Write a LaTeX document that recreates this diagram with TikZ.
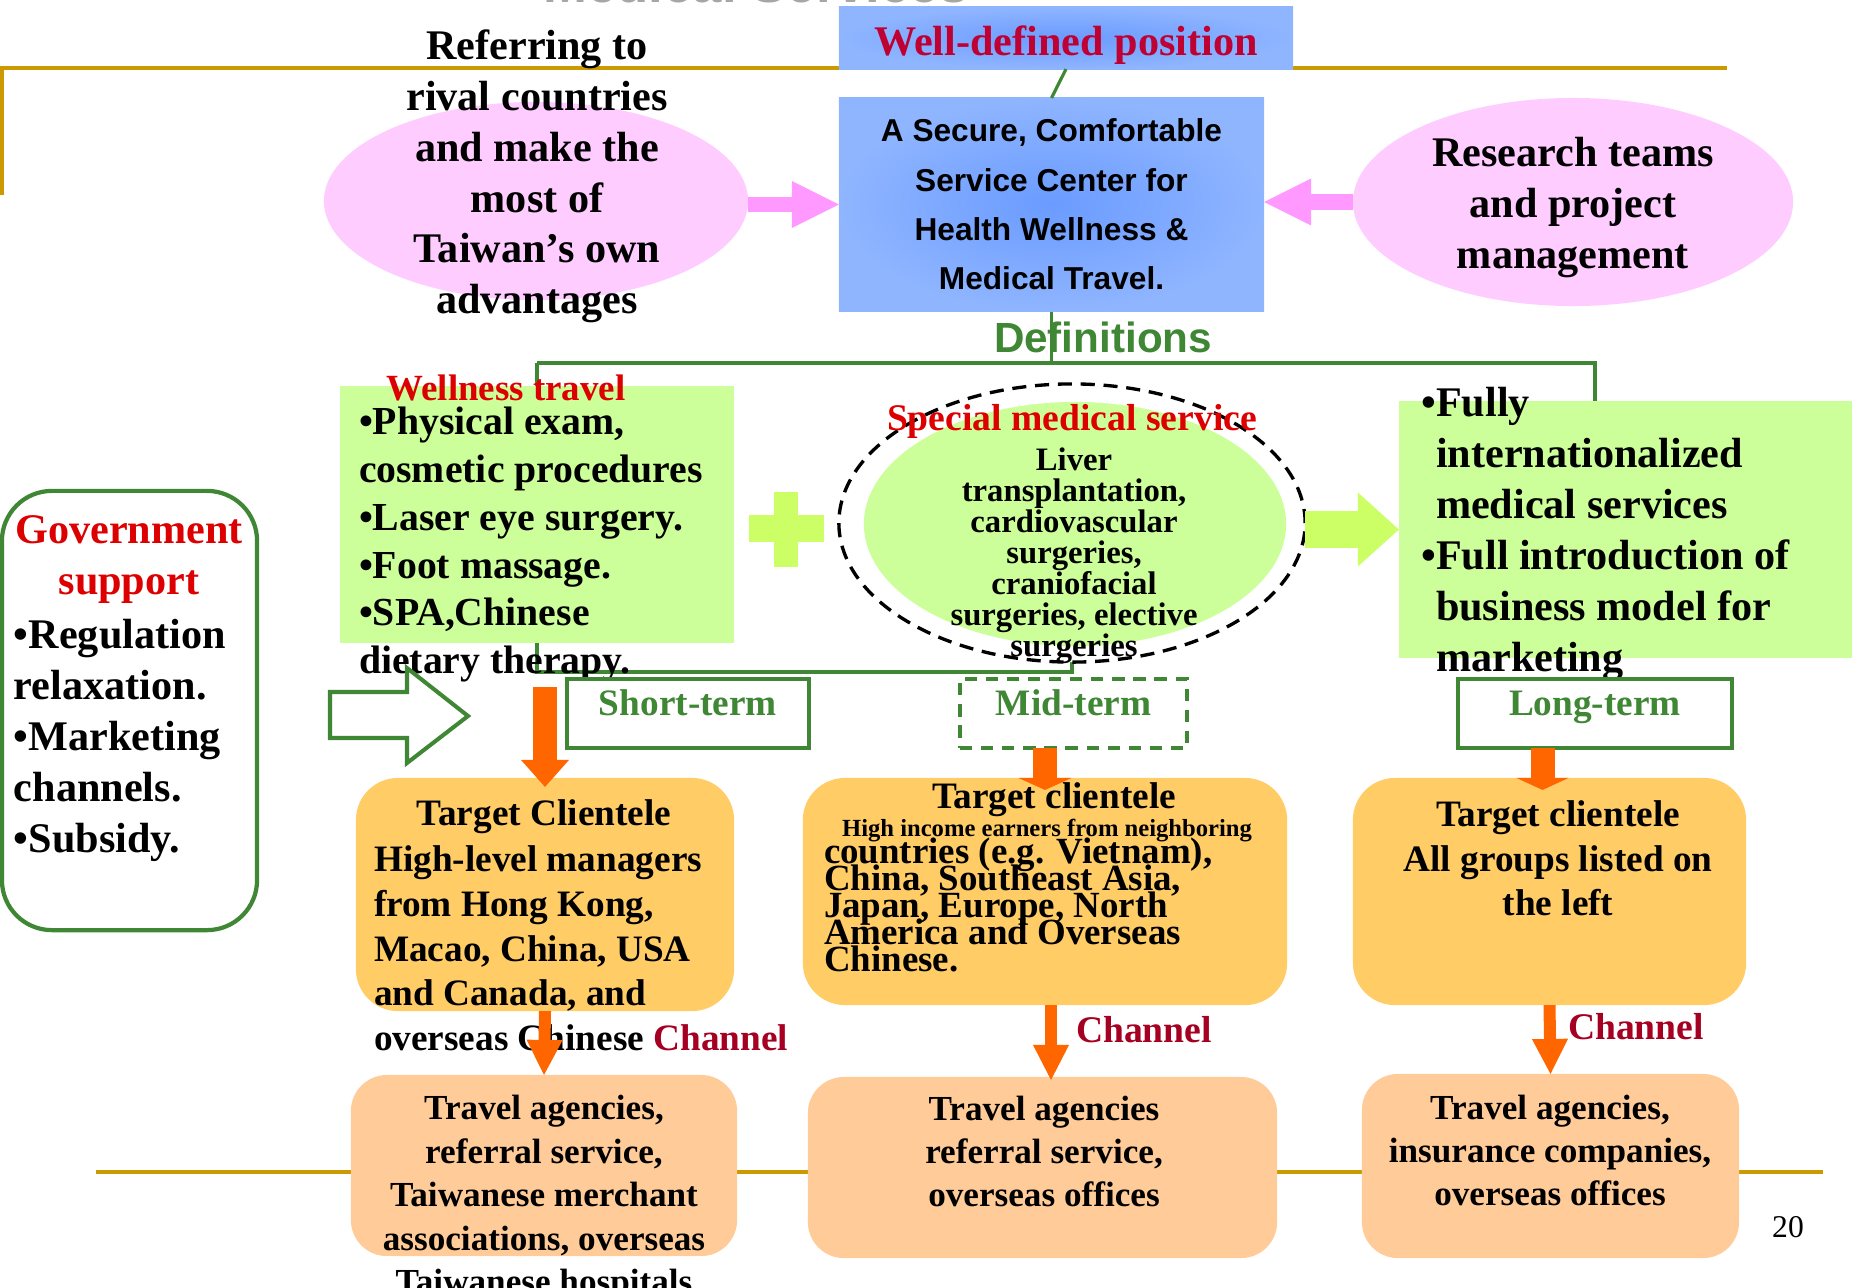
\documentclass[tikz,border=0pt]{standalone}
\usepackage{fontspec}
\setmainfont{Liberation Serif}
\newfontfamily\arialfont{Liberation Sans}
\usetikzlibrary{arrows.meta,positioning,shapes.geometric,backgrounds,calc}
\newcommand{\setfs}[2]{\fontsize{#1}{#2}\selectfont}
\definecolor{gold}{HTML}{CC9900}
\definecolor{leafgreen}{RGB}{63,135,52}
\definecolor{skyblue}{HTML}{8FB5FF}
\definecolor{deepblue}{HTML}{6A9BFF}
\definecolor{blush}{HTML}{FFCCFF}
\definecolor{orchid}{HTML}{FF99FF}
\definecolor{mint}{HTML}{CCFF99}
\definecolor{lime}{HTML}{CCFF66}
\definecolor{apricot}{HTML}{FFCC66}
\definecolor{peach}{HTML}{FFCC99}
\definecolor{tangerine}{HTML}{FF6600}
\definecolor{alert}{HTML}{DD0000}
\definecolor{crimson}{HTML}{BE0032}
\definecolor{wine}{HTML}{A50021}

\begin{document}
\begin{tikzpicture}[x=0.01cm, y=-0.01cm, fatarrow/.style={line width=#1}]
    \tikzstyle{every node}=[inner sep=0pt, outer sep=0pt]
    \tikzstyle{bluebox}=[rectangle, shade, shading=radial, inner color=deepblue, outer color=skyblue]
    \tikzstyle{pinkoval}=[ellipse, fill=blush]
    \tikzstyle{greenbox}=[rectangle, fill=mint]
    \tikzstyle{termbox}=[rectangle, draw=leafgreen, line width=1.15pt, fill=white, text=leafgreen, font=\bfseries\setfs{10.6}{12}, text depth=6pt, minimum height=0.69cm]
    \tikzstyle{clientbox}=[rectangle, rounded corners=0.42cm, fill=apricot]
    \tikzstyle{channelbox}=[rectangle, rounded corners=0.36cm, fill=peach]
    \tikzstyle{clientarrow}=[draw=tangerine, fatarrow=0.24cm]
    \tikzstyle{channelarrow}=[draw=tangerine, fatarrow=0.12cm, -{Triangle[length=0.35cm, width=0.36cm, line width=0pt]}]
    \tikzstyle{redlabel}=[text=wine, font=\bfseries\setfs{10.7}{12}]

    \useasboundingbox (0,0) rectangle (1861,1287);

    % Draw the nodes
    \node[anchor=base, text=black!35, font=\arialfont\bfseries\setfs{15}{18}] (title) at (756,2) {Medical Services};

    \node[bluebox, minimum width=4.54cm, minimum height=0.62cm, text=crimson, font=\bfseries\setfs{12}{14}, text height=9.7pt, text depth=0pt] (position) at (1066,38) {Well-defined position};
    \node[bluebox, minimum width=4.25cm, minimum height=2.13cm, align=center, font=\arialfont\bfseries\setfs{9}{14}] (hub) at (1051.5,204.5) {A Secure, Comfortable\\Service Center for\\Health Wellness \&\\Medical Travel.};

    \node[pinkoval, minimum width=4.24cm, minimum height=1.98cm] (rival) at (536,201) {};
    \node[anchor=north, align=center, font=\bfseries\setfs{12}{14.45}] (rivaltext) at (537,30) {Referring to\\rival countries\\and make the\\most of\\Taiwan’s own\\advantages};
    \node[pinkoval, minimum width=4.40cm, minimum height=2.08cm] (research) at (1573,202) {};
    \node[anchor=north, align=center, font=\bfseries\setfs{12}{14.6}] (researchtext) at (1573,137) {Research teams\\and project\\management};

    \node[anchor=base, text=leafgreen, font=\arialfont\bfseries\setfs{12}{14}] (defs) at (1103,352) {Definitions};

    \node[greenbox, minimum width=3.94cm, minimum height=2.57cm] (wellness) at (537,514.5) {};
    \node[anchor=base, text=alert, font=\bfseries\setfs{10.5}{12}] (wellnesstitle) at (506,400) {Wellness travel};
    \node[anchor=north west, align=left, font=\bfseries\setfs{11.3}{13.6}] (wellnesslist) at (359,407) {•Physical exam,\\cosmetic procedures\\•Laser eye surgery.\\•Foot massage.\\•SPA,Chinese\\dietary therapy.};

    \coordinate (plus) at (786,529);
    \fill[lime] ($(plus)+(-12,-37)$) rectangle ($(plus)+(12,38)$);
    \fill[lime] ($(plus)+(-37,-14)$) rectangle ($(plus)+(38,13)$);

    \node[ellipse, draw, line width=0.95pt, dash pattern=on 4pt off 2.5pt, fill=white, minimum width=4.66cm, minimum height=2.78cm] (ring) at (1072,523) {};
    \node[ellipse, fill=mint, minimum width=4.22cm, minimum height=2.44cm] (special) at (1075,524) {};
    \node[anchor=base, text=alert, font=\bfseries\setfs{10.7}{12}] (specialtitle) at (1072,430) {Special medical service};
    \node[anchor=north, align=center, font={\bfseries\setfs{9.3}{8.8}\lineskiplimit=-5pt}] (specialtext) at (1074,448) {Liver\\transplantation,\\cardiovascular\\surgeries,\\craniofacial\\surgeries, elective\\surgeries};

    \node[greenbox, minimum width=4.53cm, minimum height=2.57cm] (rbox) at (1625.5,529.5) {};
    \node[anchor=north west, align=left, font=\bfseries\setfs{12}{14.5}] (rboxtext) at (1436,387) {\llap{•}Fully\\internationalized\\medical services\\\llap{•}Full introduction of\\business model for\\marketing};

    \node[rectangle, rounded corners=0.5cm, draw=leafgreen, line width=1.2pt, fill=white, minimum width=2.55cm, minimum height=4.39cm] (gov) at (129.5,710.5) {};
    \node[anchor=north, align=center, text=alert, font=\bfseries\setfs{12}{14.4}] (govtitle) at (129,516) {Government\\support};
    \node[anchor=north west, align=left, font=\bfseries\setfs{12}{14.5}] (govlist) at (14,619) {•Regulation\\relaxation.\\•Marketing\\channels.\\•Subsidy.};

    \coordinate (push) at (330,715);
    \draw[leafgreen, line width=1.15pt, fill=white] ($(push)+(0,-23)$) -- ++(77,0) -- ++(0,-24) -- ($(push)+(138,1)$) -- ($(push)+(77,48)$) -- ++(0,-25) -- ($(push)+(0,23)$) -- cycle;

    \node[termbox, minimum width=2.42cm] (short) at (688,713.5) {Short-term};
    \node[termbox, dash pattern=on 3.5pt off 2.5pt, minimum width=2.27cm] (mid) at (1073.5,713.5) {Mid-term};
    \node[termbox, minimum width=2.74cm] (long) at (1595,713.5) {Long-term};

    \node[clientbox, minimum width=3.78cm, minimum height=2.33cm] (clientS) at (545,894.5) {};
    \node[anchor=base, font=\bfseries\setfs{10.6}{12.7}] (clientShead) at (544,825.5) {Target Clientele};
    \node[anchor=north west, align=left, font=\bfseries\setfs{10.6}{12.7}] (clientSlist) at (374,846) {High-level managers\\from Hong Kong,\\Macao, China, USA\\and Canada, and\\overseas Chinese {\color{wine}Channel}};

    \node[clientbox, minimum width=4.84cm, minimum height=2.27cm] (clientM) at (1045,891.5) {};
    \node[anchor=base, font=\bfseries\setfs{10.6}{12}] (clientMhead) at (1054,808) {Target clientele};
    \node[anchor=base, font=\bfseries\setfs{7}{8}] (clientMnote) at (1047,836) {High income earners from neighboring};
    \node[anchor=north west, align=left, font={\bfseries\setfs{10.5}{7.7}\lineskiplimit=-20pt}] (clientMlist) at (824,838) {countries (e.g. Vietnam),\\China, Southeast Asia,\\Japan, Europe, North\\America and Overseas\\Chinese.};

    \node[clientbox, minimum width=3.93cm, minimum height=2.27cm] (clientL) at (1549.5,891.5) {};
    \node[anchor=north, align=center, font=\bfseries\setfs{10.6}{12.7}] (clientLtext) at (1558,800.5) {Target clientele\\All groups listed on\\the left};

    \node[channelbox, minimum width=3.86cm, minimum height=1.81cm] (chanS) at (544,1165.5) {};
    \node[anchor=north, align=center, font=\bfseries\setfs{10}{12.4}] (chanStext) at (544,1095) {Travel agencies,\\referral service,\\Taiwanese merchant\\associations, overseas\\Taiwanese hospitals};
    \node[channelbox, minimum width=4.69cm, minimum height=1.81cm] (chanM) at (1042.5,1167.5) {};
    \node[anchor=north, align=center, font=\bfseries\setfs{10}{12.2}] (chanMtext) at (1044,1096) {Travel agencies\\referral service,\\overseas offices};
    \node[channelbox, minimum width=3.77cm, minimum height=1.84cm] (chanL) at (1550.5,1166) {};
    \node[anchor=north, align=center, font=\bfseries\setfs{10}{12.3}] (chanLtext) at (1550,1095) {Travel agencies,\\insurance companies,\\overseas offices};

    \node[anchor=base, font=\setfs{9}{10}] (page) at (1788,1237) {20};

    % Connect every node
    \draw[leafgreen, line width=0.9pt] (position.south) -- (hub.north);
    \draw[orchid, fatarrow=0.15cm, -{Triangle[length=0.47cm, width=0.47cm, line width=0pt]}] (rival.east |- hub.west) -- (hub.west);
    \draw[orchid, fatarrow=0.16cm, -{Triangle[length=0.47cm, width=0.47cm, line width=0pt]}] (research.west) -- (research.west -| hub.east);
    \draw[lime, fatarrow=0.37cm, -{Triangle[length=0.41cm, width=0.74cm, line width=0pt]}] (ring.east |- rbox.west) -- (rbox.west);

    \draw[clientarrow, -{Triangle[length=0.27cm, width=0.48cm, line width=0pt]}] (clientS.north |- 0,687) -- ([yshift=-0.09cm]clientS.north);
    \draw[clientarrow, -{Triangle[length=0.12cm, width=0.53cm, line width=0pt]}] (clientM.north |- mid.south) -- ([yshift=-0.12cm]clientM.north);
    \draw[clientarrow, -{Triangle[length=0.12cm, width=0.52cm, line width=0pt]}] ([xshift=-0.07cm]clientL.north |- long.south) -- ([xshift=-0.07cm, yshift=-0.12cm]clientL.north);

    \draw[channelarrow] (clientS.south) -- (chanS.north);
    \draw[channelarrow] ([xshift=0.06cm]clientM.south) -- node[redlabel, anchor=base west, xshift=0.25cm] (chanMlabel) {Channel} ([xshift=0.06cm, yshift=-0.03cm]clientM.south |- chanM.north);
    \draw[channelarrow] (clientL.south) -- node[redlabel, anchor=base west, xshift=0.18cm] (chanLlabel) {Channel} (chanL.north);

    \begin{scope}[on background layer]
        \draw[gold, line width=1.15pt] (2,195) -- (2,68) -- (1727,68);
        \draw[gold, line width=1.15pt] (96,1172) -- (1823,1172);
        \coordinate (defleft) at (537,363);
        \coordinate (defright) at (1595,363);
        \draw[leafgreen, line width=0.9pt] (hub.south) -- (hub.south |- defleft);
        \draw[leafgreen, line width=0.9pt] (defleft) -- (defright) -- (defright |- rbox.north);
        \draw[leafgreen, line width=0.9pt] (defleft) -- (defleft |- 0,672) -- (ring.south |- 0,672) -- (ring.south);
    \end{scope}
\end{tikzpicture}
\end{document}
